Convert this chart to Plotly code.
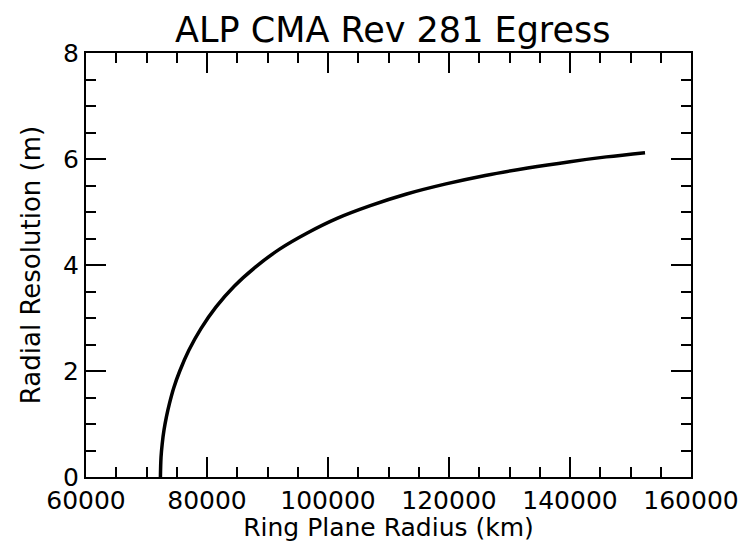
import plotly.graph_objects as go

# ring plane radius (km) and radial resolution (m)
radius_km = [72300, 72400, 72600, 72900, 73300, 73800, 74500, 75500, 77000,
             79000, 81500, 84500, 88000, 92000, 96500, 101500, 107000, 113000,
             119500, 126000, 133000, 140000, 146000, 152400]
resolution_m = [0.0, 0.37, 0.63, 0.89, 1.14, 1.39, 1.68, 2.0, 2.39,
                2.8, 3.21, 3.6, 3.96, 4.3, 4.6, 4.88, 5.12, 5.34,
                5.53, 5.69, 5.83, 5.95, 6.04, 6.12]

x_ticks = [60000, 80000, 100000, 120000, 140000, 160000]
y_ticks = [0, 2, 4, 6, 8]

FONT = "DejaVu Sans"

fig = go.Figure()
fig.add_trace(go.Scatter(
    x=radius_km,
    y=resolution_m,
    mode="lines",
    line=dict(color="black", width=3.5, shape="spline"),
    showlegend=False,
))

axis_common = dict(
    showgrid=False,
    zeroline=False,
    showline=True,
    linecolor="black",
    linewidth=2,
    mirror="allticks",
    ticks="inside",
    ticklen=20,
    tickwidth=2,
    tickcolor="black",
    tickfont=dict(family=FONT, size=25, color="black"),
    automargin=False,
)

fig.update_xaxes(
    range=[60000, 160000],
    tickvals=x_ticks,
    ticktext=[str(v) for v in x_ticks],
    minor=dict(ticks="inside", ticklen=10, tickwidth=2, tickcolor="black", dtick=5000),
    title=dict(text="Ring Plane Radius (km)", font=dict(family=FONT, size=25, color="black"), standoff=5),
    **axis_common,
)
fig.update_yaxes(
    range=[0, 8],
    tickvals=y_ticks,
    ticktext=[str(v) for v in y_ticks],
    minor=dict(ticks="inside", ticklen=10, tickwidth=2, tickcolor="black", dtick=0.5),
    title=dict(text="Radial Resolution (m)", font=dict(family=FONT, size=26, color="black"), standoff=15),
    **axis_common,
)

# the page body adds an 8px offset, so the figure is sized 8px smaller
fig.update_layout(
    width=740,
    height=534,
    margin=dict(l=78, r=57, t=45, b=65),
    paper_bgcolor="white",
    plot_bgcolor="white",
    title=dict(
        text="ALP CMA Rev 281 Egress",
        font=dict(family=FONT, size=35, color="black"),
        x=0.52, xanchor="center", y=0.96, yanchor="middle",
    ),
)

fig.write_html("out.html")
